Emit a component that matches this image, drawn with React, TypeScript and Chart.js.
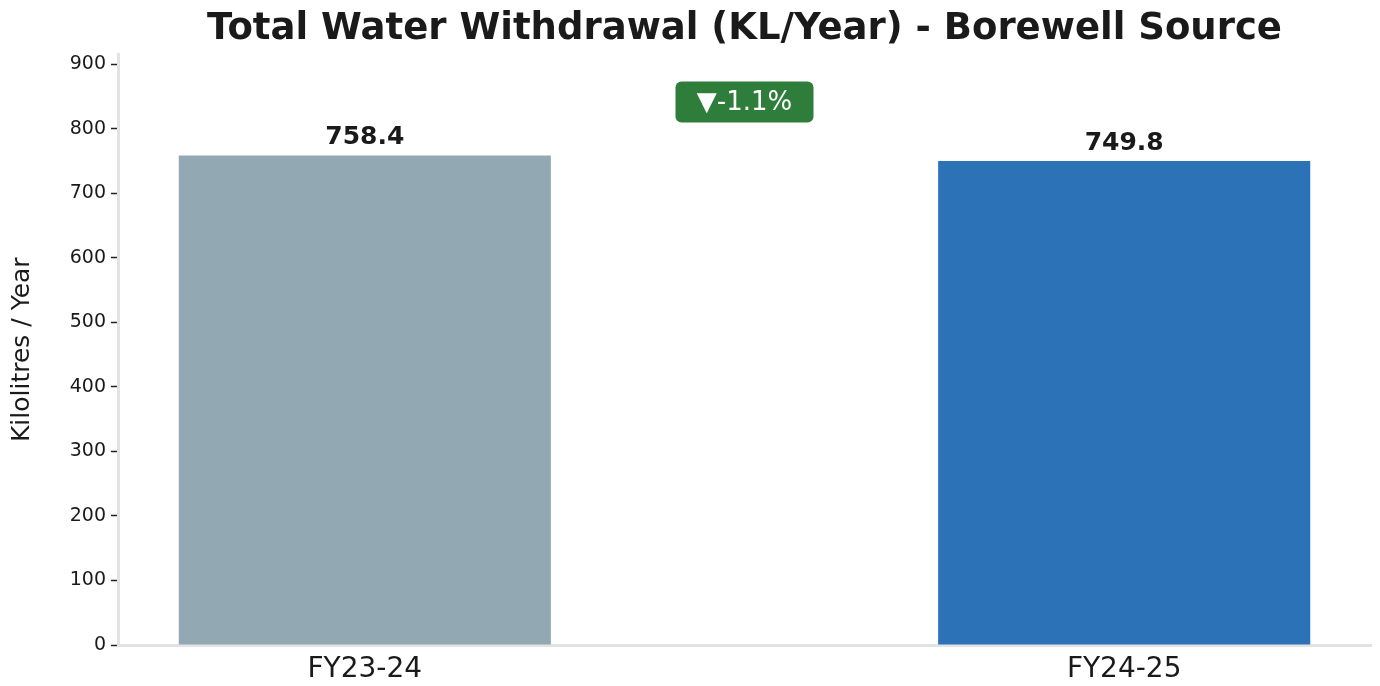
import React, { useEffect, useRef } from "react";
import { Chart, registerables } from "chart.js";

Chart.register(...registerables);

const categories = ["FY23-24", "FY24-25"];
const values = [758.4, 749.8];
const barColors = ["#92A9B3", "#2B72B6"];
const changeLabel = "▼-1.1%";
const titleText = "Total Water Withdrawal (KL/Year) - Borewell Source";
const yAxisTitle = "Kilolitres / Year";

const FONT = "'DejaVu Sans', 'Liberation Sans', sans-serif";
const TEXT = "#1a1a1a";

const overlayPlugin = {
  id: "overlay",
  afterDatasetsDraw(chart: any) {
    const ctx = chart.ctx;
    const meta = chart.getDatasetMeta(0);
    ctx.save();
    ctx.fillStyle = TEXT;
    ctx.font = `bold 25px ${FONT}`;
    ctx.textAlign = "center";
    ctx.textBaseline = "bottom";
    meta.data.forEach((bar: any, i: number) => {
      ctx.fillText(values[i].toFixed(1), bar.x, bar.y - 5);
    });
    // change badge
    const area = chart.chartArea;
    const cx = (area.left + area.right) / 2;
    const cy = area.top + 47.5;
    const w = 138;
    const h = 41;
    ctx.fillStyle = "#2E7D3A";
    ctx.beginPath();
    (ctx as any).roundRect(cx - w / 2, cy - h / 2, w, h, 6);
    ctx.fill();
    ctx.fillStyle = "#ffffff";
    ctx.font = `26px ${FONT}`;
    ctx.textBaseline = "middle";
    ctx.fillText(changeLabel, cx, cy + 1);
    ctx.restore();
  },
};

export default function App() {
  const ref = useRef<HTMLCanvasElement | null>(null);
  useEffect(() => {
    document.body.style.margin = "0";
    const canvas = ref.current!;
    const chart = new Chart(canvas, {
      type: "bar",
      data: {
        datasets: [
          {
            data: categories.map((_, i) => ({ x: i, y: values[i] })),
            backgroundColor: barColors,
            borderWidth: 0,
            barPercentage: 0.49,
            categoryPercentage: 1,
          },
        ],
      },
      options: {
        animation: false,
        responsive: true,
        maintainAspectRatio: false,
        layout: { padding: { top: 7, right: 9, left: 6, bottom: 0 } },
        plugins: {
          legend: { display: false },
          tooltip: { enabled: false },
          title: {
            display: true,
            text: titleText,
            fullSize: false,
            color: TEXT,
            font: { family: FONT, size: 37, weight: "bold" },
            padding: { top: 0, bottom: 3 },
          },
        },
        scales: {
          x: {
            type: "linear",
            min: -0.325,
            max: 1.325,
            offset: false,
            afterBuildTicks: (scale: any) => {
              scale.ticks = scale.ticks.filter((t: any) => Number.isInteger(t.value));
            },
            afterFit: (scale: any) => {
              scale.height = 41;
            },
            ticks: {
              stepSize: 1,
              callback: (v: any) => categories[v] ?? "",
              color: TEXT,
              font: { family: FONT, size: 28 },
              padding: 8,
              maxRotation: 0,
              autoSkip: false,
            },
            grid: { display: false, drawTicks: false },
            border: { display: true, color: "#e3e3e3", width: 3 },
          },
          y: {
            min: 0,
            max: 915,
            afterFit: (scale: any) => {
              scale.width = 112;
            },
            ticks: {
              stepSize: 100,
              includeBounds: false,
              color: TEXT,
              font: { family: FONT, size: 19 },
              padding: 5,
            },
            grid: {
              display: true,
              drawOnChartArea: false,
              drawTicks: true,
              tickLength: 7,
              tickWidth: 1.5,
              tickColor: "#222",
            },
            border: { display: true, color: "#e3e3e3", width: 3 },
            title: {
              display: true,
              text: yAxisTitle,
              color: TEXT,
              font: { family: FONT, size: 25 },
              padding: { top: 1, bottom: 10 },
            },
          },
        },
      },
      plugins: [overlayPlugin],
    } as any);
    return () => chart.destroy();
  }, []);
  return (
    <div style={{ position: "fixed", left: 0, top: 0, width: 1380, height: 686, background: "#fff" }}>
      <canvas ref={ref} />
    </div>
  );
}
